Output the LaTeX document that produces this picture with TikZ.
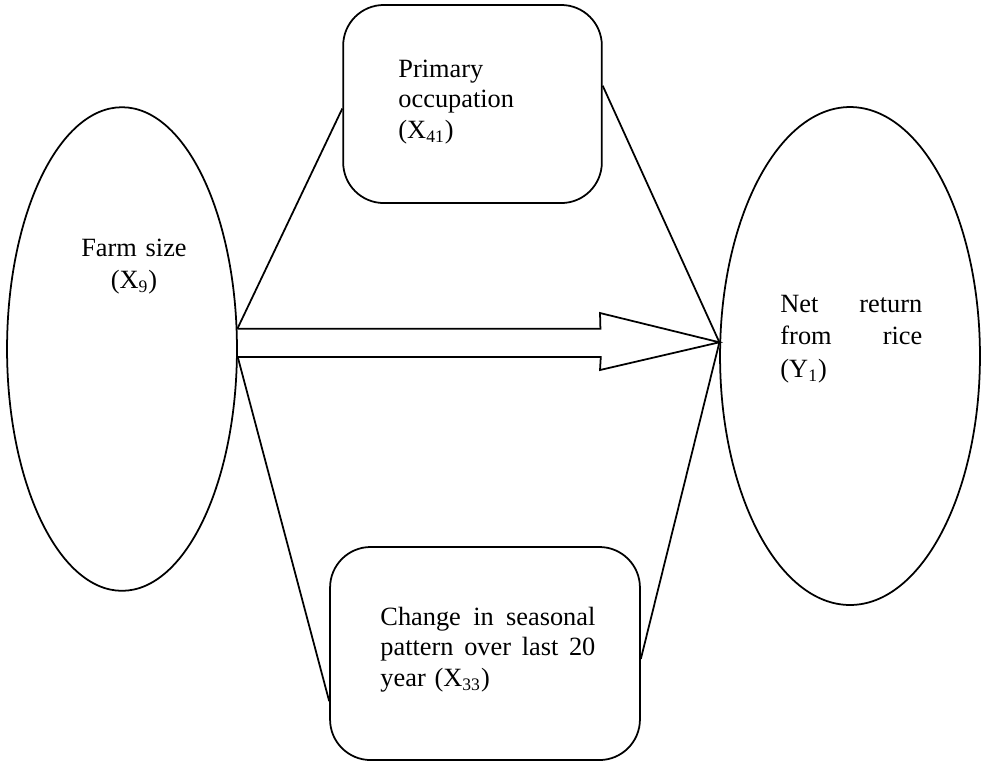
\documentclass[tikz,border=0pt]{standalone}
\usepackage{fontspec}
\setmainfont{Liberation Serif}
\usetikzlibrary{shapes.geometric,calc}

\begin{document}
\begin{tikzpicture}[x=0.016cm,y=-0.016cm]
            \tikzset{oval/.style = {draw, ellipse, line width=0.8pt, inner sep=0pt}}
            \tikzset{rbox/.style = {draw, rectangle, rounded corners=0.65cm, line width=0.8pt, inner sep=0pt}}
            \tikzset{txt/.style = {inner sep=0pt, font=\fontsize{12}{14}\selectfont}}
            \tikzset{link/.style = {line width=0.8pt, line join=miter}}
            \useasboundingbox (0,0) rectangle (987,761);

            % variables
            \node[oval, minimum width=3.68cm, minimum height=7.74cm] (farm) at (122,349) {};
            \node[oval, minimum width=4.16cm, minimum height=7.97cm] (net) at (850,356) {};
            \node[rbox, minimum width=4.14cm, minimum height=3.17cm] (occ) at (472.5,104) {};
            \node[rbox, minimum width=4.96cm, minimum height=3.41cm] (season) at (485,653.5) {};

            % texts
            \node[txt, font=\fontsize{12}{15}\selectfont, text width=2cm, align=center, anchor=base] (farmtxt) at (134,256) {Farm size\\(X\textsubscript{9})};
            \node[txt, text width=2cm, align=left, anchor=base west] (occtxt) at (398,77) {Primary\\occupation\\(X\textsubscript{41})};
            \node[txt, font=\fontsize{12}{15}\selectfont, text width=2.27cm, anchor=base west] (nettxt) at (780,312)
              {Net\hfill return\\from\hfill rice\\(Y\textsubscript{1})};
            \node[txt, text width=3.44cm, anchor=base west] (seasontxt) at (380,625)
              {Change\hfill in\hfill seasonal\\pattern\hfill over\hfill last\hfill 20\\year (X\textsubscript{33})};

            % links
            \draw[link] (farm.10) to (occ.182);
            \draw[link] (occ.8) to (net.174);
            \draw[link] (farm.-4) to (season.197);
            \draw[link] (season.-2) to (net.174);

            % block arrow
            \draw[link] (farm.10) -- ($(farm.10)+(363,0)$) -- (600,313) -- (net.174)
              -- (600,370) -- ($(farm.-4)+(363,0)$) -- (farm.-4);
\end{tikzpicture}
\end{document}
